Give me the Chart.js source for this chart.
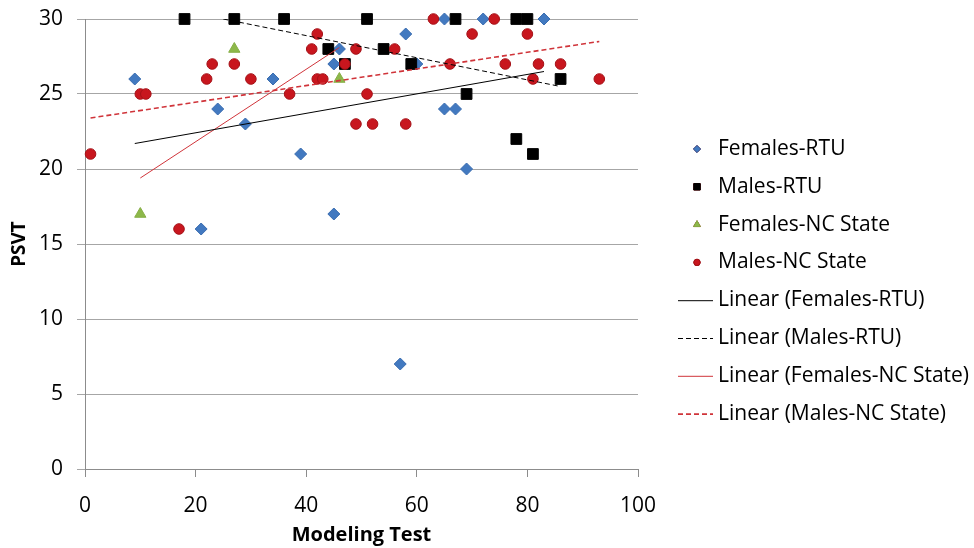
<!DOCTYPE html>
<html>
<head>
<meta charset="utf-8">
<script src="https://cdn.jsdelivr.net/npm/chart.js@4/dist/chart.umd.min.js"></script>
<style>
html,body{margin:0;padding:0;background:#fff;}
#wrap{width:974px;height:548px;position:relative;}
</style>
</head>
<body>
<div id="wrap"><canvas id="c" width="974" height="548"></canvas></div>
<script>
// ---- data ----
const femalesRTU_x = [9,24,29,34,39,45,46,45,58,60,65,72,83,65,67,69,21,57];
const femalesRTU_y = [26,24,23,26,21,27,28,17,29,27,30,30,30,24,24,20,16,7];

const malesRTU_x = [18,27,36,51,67,78,80,44,54,59,47,69,86,78,81];
const malesRTU_y = [30,30,30,30,30,30,30,28,28,27,27,25,26,22,21];

const femalesNC_x = [10,27,46];
const femalesNC_y = [17,28,26];

const malesNC_x = [1,17,10,11,22,23,27,30,37,42,41,42,43,47,49,51,49,52,58,56,63,66,74,70,80,76,82,86,81,93];
const malesNC_y = [21,16,25,25,26,27,27,26,25,29,28,26,26,27,28,25,23,23,23,28,30,27,30,29,29,27,27,27,26,26];

// trend line endpoints (as drawn in the reference)
const trendFemalesRTU_x = [9,83];    const trendFemalesRTU_y = [21.7,26.5];
const trendMalesRTU_x = [25,86];     const trendMalesRTU_y = [30,25.5];
const trendFemalesNC_x = [10,46];    const trendFemalesNC_y = [19.4,28.1];
const trendMalesNC_x = [1,93];       const trendMalesNC_y = [23.4,28.5];

const xTicks = [0,20,40,60,80,100];
const yTicks = [0,5,10,15,20,25,30];

const seriesNames = ['Females-RTU','Males-RTU','Females-NC State','Males-NC State',
  'Linear (Females-RTU)','Linear (Males-RTU)','Linear (Females-NC State)','Linear (Males-NC State)'];

const pts = (xs, ys) => xs.map((x, i) => ({x: x, y: ys[i]}));

const FONT = "'Open Sans', 'DejaVu Sans', sans-serif";

// custom legend drawn on canvas
const legendPlugin = {
  id: 'customLegend',
  afterDraw(chart) {
    const ctx = chart.ctx;
    const o = chart.options.plugins.customLegend;
    ctx.save();
    ctx.font = o.fontSize + 'px ' + FONT;
    ctx.fillStyle = '#000';
    ctx.textBaseline = 'middle';
    ctx.textAlign = 'left';
    chart.data.datasets.forEach((ds, i) => {
      const cy = o.top + i * o.spacing;
      const cx = o.markerX;
      ctx.save();
      if (ds.showLine) {
        ctx.strokeStyle = ds.borderColor;
        ctx.lineWidth = ds.borderWidth;
        ctx.setLineDash(ds.borderDash || []);
        ctx.beginPath();
        ctx.moveTo(o.lineX0, cy + 0.5);
        ctx.lineTo(o.lineX1, cy + 0.5);
        ctx.stroke();
      } else {
        Chart.helpers.drawPoint(ctx, {
          pointStyle: ds.pointStyle,
          radius: ds.pointRadius * 0.6,
          borderWidth: 1,
          rotation: 0
        }, cx, cy);
        ctx.fillStyle = ds.pointBackgroundColor;
        ctx.strokeStyle = ds.pointBorderColor;
        ctx.lineWidth = 1;
        ctx.fill();
        ctx.stroke();
      }
      ctx.restore();
      ctx.fillText(ds.label, o.textX, cy);
    });
    ctx.restore();
  }
};

const scatterDs = (label, xs, ys, style, r, bg, border, order) => ({
  label: label, data: pts(xs, ys), type: 'scatter', showLine: false,
  pointStyle: style, pointRadius: r, pointHoverRadius: r,
  pointBackgroundColor: bg, pointBorderColor: border, pointBorderWidth: 1,
  clip: false, order: order
});
const lineDs = (label, xs, ys, color, width, dash, order) => ({
  label: label, data: pts(xs, ys), type: 'line', showLine: true,
  borderColor: color, borderWidth: width, borderDash: dash,
  pointRadius: 0, fill: false, tension: 0, order: order
});

new Chart(document.getElementById('c'), {
  type: 'scatter',
  data: {
    datasets: [
      scatterDs(seriesNames[0], femalesRTU_x, femalesRTU_y, 'rectRot', 6, '#4279C0', '#3A6DB0', 4),
      scatterDs(seriesNames[1], malesRTU_x, malesRTU_y, 'rect', 7.6, '#000000', '#000000', 3),
      scatterDs(seriesNames[2], femalesNC_x, femalesNC_y, 'triangle', 6.5, '#8DB84A', '#86AE45', 2),
      scatterDs(seriesNames[3], malesNC_x, malesNC_y, 'circle', 5.3, '#C8161E', '#A51218', 1),
      lineDs(seriesNames[4], trendFemalesRTU_x, trendFemalesRTU_y, '#000000', 1, [], 0),
      lineDs(seriesNames[5], trendMalesRTU_x, trendMalesRTU_y, '#000000', 1, [5,3], 0),
      lineDs(seriesNames[6], trendFemalesNC_x, trendFemalesNC_y, '#D0343A', 1, [], 0),
      lineDs(seriesNames[7], trendMalesNC_x, trendMalesNC_y, '#D0343A', 1.6, [5,3], 0)
    ]
  },
  options: {
    responsive: false,
    animation: false,
    devicePixelRatio: 1,
    layout: { padding: { left: 0, top: 19, right: 336, bottom: 0 } },
    plugins: {
      legend: { display: false },
      tooltip: { enabled: false },
      customLegend: { top: 149, spacing: 37.8, markerX: 697, lineX0: 678, lineX1: 713, textX: 718, fontSize: 21 }
    },
    scales: {
      x: {
        type: 'linear', min: 0, max: 100,
        afterBuildTicks: s => { s.ticks = xTicks.map(v => ({value: v})); },
        afterFit: s => { s.height = 79; },
        ticks: { font: { family: FONT, size: 21 }, color: '#000', padding: 16, maxRotation: 0 },
        grid: { drawOnChartArea: false, drawTicks: true, tickLength: 8, color: '#8c8c8c' },
        border: { color: '#8c8c8c', width: 1 },
        title: { display: true, text: 'Modeling Test', font: { family: FONT, size: 20, weight: 'bold' }, color: '#000', padding: { top: 0, bottom: 1 } }
      },
      y: {
        type: 'linear', min: 0, max: 30,
        afterBuildTicks: s => { s.ticks = yTicks.map(v => ({value: v})); },
        afterFit: s => { s.width = 85; s.paddingTop = 0; s.paddingBottom = 0; },
        ticks: { font: { family: FONT, size: 21 }, color: '#000', padding: 14 },
        grid: { drawOnChartArea: true, drawTicks: true, tickLength: 8, color: '#a6a6a6' },
        border: { color: '#8c8c8c', width: 1 },
        title: { display: true, text: 'PSVT', font: { family: FONT, size: 19, weight: 'bold' }, color: '#000', padding: { top: 8, bottom: 0 } }
      }
    }
  },
  plugins: [legendPlugin]
});
</script>
</body>
</html>
